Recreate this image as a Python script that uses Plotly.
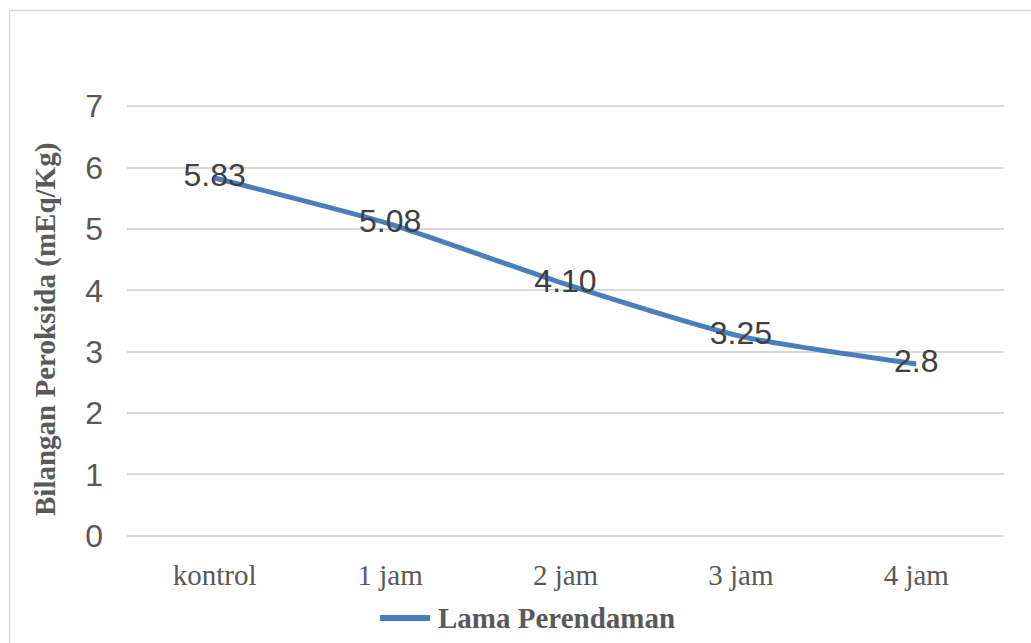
import plotly.graph_objects as go

# Peroxide value by soaking duration
categories = ["kontrol", "1 jam", "2 jam", "3 jam", "4 jam"]
values = [5.83, 5.08, 4.10, 3.25, 2.8]
value_labels = ["5.83", "5.08", "4.10", "3.25", "2.8"]
y_ticks = [0, 1, 2, 3, 4, 5, 6, 7]
series_name = "Lama Perendaman"

W, H = 1031, 643
L, R, T, B = 127, 27, 105, 106
pw, ph = W - L - R, H - T - B

SERIF = "Liberation Serif, Times New Roman, serif"
SANS = "Liberation Sans, Arial, sans-serif"
LINE_COLOR = "#4A7EBB"
GREY_TEXT = "#595959"


def px_x(x):
    return (x - L) / pw


def px_y(y):
    return (H - B - y) / ph


fig = go.Figure()
fig.add_trace(go.Scatter(
    x=categories, y=values,
    mode="lines+text",
    line=dict(color=LINE_COLOR, width=5, shape="spline", smoothing=0.6),
    text=value_labels,
    textposition="middle center",
    textfont=dict(family=SANS, size=32, color="#404040"),
    name=series_name,
    showlegend=False,
    cliponaxis=False,
))

fig.update_layout(
    width=W, height=H,
    margin=dict(l=L, r=R, t=T, b=B),
    paper_bgcolor="white",
    plot_bgcolor="white",
    showlegend=False,
    xaxis=dict(
        type="category",
        showgrid=False,
        showline=False,
        zeroline=False,
        ticks="",
        ticklabelstandoff=18,
        tickfont=dict(family=SERIF, size=29, color=GREY_TEXT),
        range=[-0.5, 4.5],
        fixedrange=True,
    ),
    yaxis=dict(
        range=[-0.02, 7.02],
        tickvals=y_ticks,
        showgrid=True,
        gridcolor="#D9D9D9",
        gridwidth=1.5,
        zeroline=False,
        showline=False,
        ticks="",
        ticklabelstandoff=23,
        tickfont=dict(family=SANS, size=32, color=GREY_TEXT),
        fixedrange=True,
    ),
    annotations=[
        dict(
            text="<b>Bilangan Peroksida (mEq/Kg)</b>",
            xref="paper", yref="paper",
            x=px_x(45), y=px_y(330),
            xanchor="center", yanchor="middle",
            textangle=-90, showarrow=False,
            font=dict(family=SERIF, size=29, color=GREY_TEXT),
        ),
        # legend entry text
        dict(
            text="<b>" + series_name + "</b>",
            xref="paper", yref="paper",
            x=px_x(436), y=px_y(618),
            xanchor="left", yanchor="middle",
            showarrow=False,
            font=dict(family=SERIF, size=29, color=GREY_TEXT),
        ),
    ],
    shapes=[
        # chart frame
        dict(
            type="rect", xref="paper", yref="paper",
            x0=px_x(9.5), x1=px_x(1040),
            y0=px_y(660), y1=px_y(10.5),
            line=dict(color="#D9D9D9", width=1.5),
            fillcolor="rgba(0,0,0,0)",
            layer="below",
        ),
        # legend entry swatch
        dict(
            type="line", xref="paper", yref="paper",
            x0=px_x(380), x1=px_x(430),
            y0=px_y(618), y1=px_y(618),
            line=dict(color=LINE_COLOR, width=6),
        ),
    ],
)

fig.write_html("out.html")
